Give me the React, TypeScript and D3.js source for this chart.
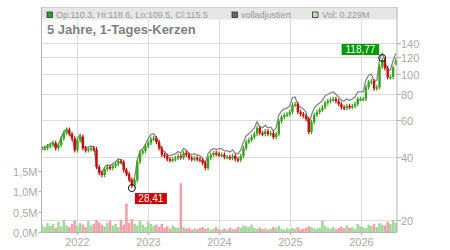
import React from 'react';
import * as d3 from 'd3';

// biweekly candles starting 2021-07-05
const startDate = [2021, 6, 5];
const stepDays = 14;

const closes = [
  44, 44, 45, 45.6, 46.6, 44, 45.6, 49, 52, 54, 51.5, 49, 43, 48, 50, 44, 43, 43.5, 44, 43.5,
  35.8, 33.5, 32.8, 35, 35.8, 35.4, 36.2, 37, 38.2, 37.8, 34.6, 33.2, 31.1, 29.2, 31, 37.8, 41.8, 42.7, 45, 46.6,
  48.7, 49.2, 47.1, 44, 41, 40.4, 39, 38.7, 39, 39.5, 40.4, 39.8, 41.8, 41, 39.5, 39, 39.5, 39, 38.7, 37.4,
  35.4, 39.5, 41, 41.8, 41.3, 41, 41, 40, 40, 39.5, 40.4, 39, 38.7, 40.4, 44, 47.1, 48.2, 49.8, 51.5, 55,
  52, 51.5, 53, 51.5, 52, 49.8, 51.5, 59.3, 62, 63.4, 64, 65.5, 71, 71.5, 65.5, 64, 62.8, 60.7, 52.6, 58.7,
  63.4, 65.5, 67, 69, 72.4, 73.8, 75, 75.7, 73.8, 71.5, 69, 68.5, 70, 69, 70, 71.5, 75.7, 75.7, 75.7, 86,
  91, 92, 85, 86, 108, 116, 106, 96, 96.5, 107, 115.5,
];

const volumes = [
  0.18, 0.12, 0.22, 0.15, 0.2, 0.1, 0.25, 0.14, 0.3, 0.16, 0.12,
  0.2, 0.28, 0.15, 0.22, 0.18, 0.12, 0.26, 0.16, 0.2, 0.3,
  0.24, 0.18, 0.14, 0.22, 0.28, 0.16, 0.2, 0.12, 0.3, 0.18,
  0.7, 0.22, 0.32, 0.2, 0.16, 0.28, 0.18, 0.12, 0.25, 0.2,
  0.15, 0.18, 0.12, 0.2, 0.1, 0.14, 0.08, 0.16, 0.12, 0.1,
  1.2, 0.12, 0.08, 0.1, 0.06, 0.09, 0.07, 0.1, 0.12, 0.08,
  0.1, 0.06, 0.08, 0.12, 0.07, 0.05, 0.09, 0.06, 0.1, 0.08,
  0.07, 0.12, 0.1, 0.16, 0.14, 0.12, 0.18, 0.1, 0.08, 0.11,
  0.07, 0.09, 0.06, 0.08, 0.12, 0.1, 0.15, 0.08, 0.06, 0.09,
  0.07, 0.1, 0.08, 0.12, 0.06, 0.08, 0.1, 0.14, 0.12, 0.09,
  0.08, 0.1, 0.28, 0.16, 0.1, 0.08, 0.12, 0.07, 0.1, 0.13,
  0.09, 0.16, 0.1, 0.12, 0.08, 0.2, 0.14, 0.12, 0.1, 0.18,
  0.15, 0.2, 0.12, 0.22, 0.18, 0.16, 0.25, 0.2, 0.3, 0.229,
];

// cumulative dividend factor of the fully adjusted line, per calendar year
const adjYears = [2021, 2022, 2023, 2024, 2025, 2026];
const adjFactors = [1.01, 1.025, 1.05, 1.07, 1.08, 1.08];

const priceTicks = [20, 40, 60, 80, 100, 120, 140];
const volTicks = [0, 0.5, 1.0, 1.5];
const yearTicks = [2022, 2023, 2024, 2025, 2026];

const lastBar = { op: 110.3, hi: 118.6, lo: 109.5, cl: 115.5, vol: 0.229 };
const extremes = [
  { index: 33, value: 28.41, kind: 'low' },
  { index: 125, value: 118.77, kind: 'high' },
];

const W = 450;
const H = 250;
const left = 41.5;
const right = 397;
const top = 7;
const bottom = 232;
const font = 'Arial, "Liberation Sans", sans-serif';

const de = d3.formatLocale({ decimal: ',', thousands: '.', grouping: [3], currency: ['', '€'] });
const fmt2 = de.format('.2f');
const fmtVol = de.format('.1f');

export default function App() {
  const x = d3.scaleTime()
    .domain([new Date(2021, 6, 2), new Date(2026, 6, 5)])
    .range([left, right]);
  const y = d3.scaleLog().domain([20, 140]).range([220, 43]);
  const v = d3.scaleLinear().domain([0, 1.5]).range([bottom, 171]);

  const bars = closes.map((c, i) => {
    const date = new Date(startDate[0], startDate[1], startDate[2] + i * stepDays);
    const last = i === closes.length - 1;
    const o = last ? lastBar.op : i === 0 ? c : closes[i - 1];
    let hi = last ? lastBar.hi : Math.max(o, c) * 1.025;
    let lo = last ? lastBar.lo : Math.min(o, c) / 1.025;
    extremes.forEach((e) => {
      if (e.index === i && e.kind === 'low') lo = e.value;
      if (e.index === i && e.kind === 'high') hi = e.value;
    });
    const yi = adjYears.indexOf(date.getFullYear());
    const adj = c * adjFactors[Math.max(0, yi)];
    return { date, o, c, hi, lo, adj, vol: volumes[i], up: c >= o };
  });

  const adjLine = d3.line<any>().x((d) => x(d.date)).y((d) => y(d.adj));

  return (
    <svg width={W} height={H} style={{ position: 'absolute', left: 0, top: 0, background: '#fff' }} fontFamily={font}>
      <defs>
        <clipPath id="plot">
          <rect x={left} y={20} width={right - left} height={bottom - 20} />
        </clipPath>
      </defs>

      {/* grid */}
      {priceTicks.map((t) => (
        <line key={'g' + t} x1={left} x2={right} y1={Math.round(y(t)) + 0.5} y2={Math.round(y(t)) + 0.5} stroke="#dcdcdc" />
      ))}
      {yearTicks.map((t) => {
        const xx = Math.round(x(new Date(t, 0, 1))) + 0.5;
        return <line key={'v' + t} x1={xx} x2={xx} y1={top} y2={bottom} stroke="#dcdcdc" />;
      })}

      {/* header band */}
      <rect x={left} y={top} width={right - left} height={12.5} fill="#e6e6e6" />
      <rect x={47} y={12} width={5.5} height={5.5} fill="#2e9e2e" stroke="#333" strokeWidth={0.8} />
      <text x={56} y={17.5} fontSize={9} fill="#999">
        {`Op:${lastBar.op}, Hi:${lastBar.hi}, Lo:${lastBar.lo}, Cl:${lastBar.cl}`}
      </text>
      <rect x={232} y={12} width={5.5} height={5.5} fill="#666" stroke="#333" strokeWidth={0.8} />
      <text x={241} y={17.5} fontSize={9} fill="#999">volladjustiert</text>
      <rect x={312.5} y={12} width={5.5} height={5.5} fill="#b8e2b0" stroke="#333" strokeWidth={0.8} />
      <text x={322} y={17.5} fontSize={9} fill="#999">{`Vol: ${lastBar.vol}M`}</text>

      <text x={47} y={34} fontSize={13} fontWeight="bold" fill="#808080">5 Jahre, 1-Tages-Kerzen</text>

      <g clipPath="url(#plot)">
        {/* volume */}
        {bars.map((b, i) => (
          <rect key={'vb' + i} x={x(b.date) - 1.3} y={v(b.vol)} width={2.6} height={bottom - v(b.vol)}
            fill={b.up ? '#a4d99c' : '#f0a2aa'} />
        ))}
        {/* adjusted line */}
        <path d={adjLine(bars) || ''} fill="none" stroke="#868686" strokeWidth={1.3} />
        {/* candles */}
        {bars.map((b, i) => {
          const cx = x(b.date);
          const col = b.up ? '#3aa31f' : '#c80d0d';
          const y1 = Math.min(y(b.o), y(b.c));
          const h = Math.max(1.5, Math.abs(y(b.o) - y(b.c)));
          return (
            <g key={'c' + i}>
              <line x1={cx} x2={cx} y1={y(b.hi)} y2={y(b.lo)} stroke={col} strokeWidth={1.2} />
              <rect x={cx - 1.2} y={y1} width={2.4} height={h} fill={col} />
            </g>
          );
        })}
      </g>

      {/* extreme markers */}
      {extremes.map((e) => {
        const cx = x(bars[e.index].date);
        const cy = y(e.value);
        const label = fmt2(e.value);
        const bw = label.length * 5.6 + 4;
        const bx = e.kind === 'low' ? cx + 3 : cx - 3 - bw;
        const by = e.kind === 'low' ? cy + 5 : cy - 14;
        return (
          <g key={'e' + e.index}>
            <circle cx={cx} cy={cy} r={3.5} fill="none" stroke="#111" strokeWidth={1} />
            <rect x={bx} y={by} width={bw} height={11} fill={e.kind === 'low' ? '#cc0000' : '#009900'} />
            <text x={bx + bw / 2} y={by + 9} fontSize={10} fill="#fff" textAnchor="middle">{label}</text>
          </g>
        );
      })}

      {/* frame & axes */}
      <line x1={left} x2={right} y1={top + 0.5} y2={top + 0.5} stroke="#cfcfcf" />
      <line x1={left} x2={left} y1={top} y2={bottom} stroke="#b5b5b5" />
      <line x1={right} x2={right} y1={top} y2={bottom} stroke="#b5b5b5" />
      <line x1={left} x2={right} y1={bottom + 0.5} y2={bottom + 0.5} stroke="#b5b5b5" />

      {priceTicks.map((t) => {
        const yy = Math.round(y(t)) + 0.5;
        return (
          <g key={'pt' + t}>
            <line x1={right} x2={right + 4} y1={yy} y2={yy} stroke="#b5b5b5" />
            <text x={401} y={yy + 4} fontSize={11} fill="#aaa">{t}</text>
          </g>
        );
      })}
      {volTicks.map((t) => {
        const yy = Math.round(v(t)) + 0.5;
        return (
          <g key={'vt' + t}>
            <line x1={left - 3} x2={left} y1={yy} y2={yy} stroke="#b5b5b5" />
            <text x={37.5} y={yy + 4} fontSize={11} fill="#aaa" textAnchor="end">{fmtVol(t) + 'M'}</text>
          </g>
        );
      })}
      {yearTicks.map((t) => {
        const xx = Math.round(x(new Date(t, 0, 1))) + 0.5;
        return (
          <g key={'yt' + t}>
            <line x1={xx} x2={xx} y1={bottom} y2={bottom + 3} stroke="#b5b5b5" />
            <text x={xx} y={246} fontSize={11} fill="#aaa" textAnchor="middle">{t}</text>
          </g>
        );
      })}
    </svg>
  );
}
